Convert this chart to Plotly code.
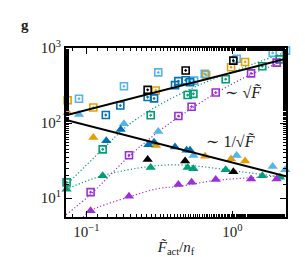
import numpy as np
import plotly.graph_objects as go

# ---- data ----
orange_sq_x = [0.0745, 0.1117, 0.299, 0.661, 0.98, 1.222]
orange_sq_y = [201, 161, 272, 437, 555, 652]
orange_tri_x = [0.0745, 0.1117, 0.30, 0.65, 0.98, 1.222]
orange_tri_y = [138, 64, 50.3, 36.1, 33.3, 31.2]

lblue_sq_x = [0.0891, 0.181, 0.311, 0.547, 0.647, 1.07, 1.888, 2.33, 2.46]
lblue_sq_y = [211, 309, 473, 367, 453, 720, 861, 923, 835]
lblue_tri_x = [0.0891, 0.181, 0.311, 0.541, 1.07, 1.888, 2.30, 2.46]
lblue_tri_y = [130, 98, 77, 36.9, 36.9, 26.3, 23.8, 20.3]

blue_sq_x = [0.136, 0.171, 0.263, 0.291, 0.405, 0.427, 0.479, 0.513]
blue_sq_y = [128, 171, 222, 213, 320, 362, 372, 351]
blue_tri_x = [0.137, 0.172, 0.266, 0.291, 0.405, 0.486, 0.513]
blue_tri_y = [58, 82, 51.3, 55.5, 47.8, 43.3, 43.3]

black_sq_x = [0.263, 0.479, 1.016]
black_sq_y = [277, 502, 678]
black_tri_x = [0.263, 0.475, 1.016]
black_tri_y = [32.8, 31.2, 22.4]

green_sq_x = [0.0733, 0.1294, 0.276, 0.494, 0.541, 0.90, 1.604, 2.11]
green_sq_y = [16.2, 44.6, 127, 236, 245, 384, 571, 705]
green_tri_x = [0.0733, 0.1294, 0.276, 0.494, 0.541, 0.90, 1.604, 2.12]
green_tri_y = [13.1, 19.9, 25.5, 25.5, 24.7, 23.8, 19.9, 18.9]

purple_sq_x = [0.107, 0.196, 0.427, 0.526, 0.769, 1.343, 2.01]
purple_sq_y = [12.0, 37.3, 124, 165, 255, 459, 638]
purple_tri_x = [0.107, 0.196, 0.427, 0.526, 0.769, 1.343, 2.01]
purple_tri_y = [6.8, 10.6, 15.2, 16.3, 17.7, 18.0, 18.0]

# guide curves (dotted)
green_up_x = [0.0726, 0.129, 0.194, 0.311, 0.613, 1.2, 2.34]
green_up_y = [14.8, 44.6, 94, 171, 331, 550, 889]
green_lo_x = [0.0726, 0.129, 0.276, 0.46, 1.15, 2.34]
green_lo_y = [13.1, 19.9, 26.5, 27.6, 22.4, 18.7]
purple_up_x = [0.0726, 0.107, 0.194, 0.311, 0.524, 0.84, 1.35, 2.0, 2.34]
purple_up_y = [6.0, 11.2, 35.2, 76.4, 156, 276, 447, 620, 765]
purple_lo_x = [0.095, 0.107, 0.194, 0.311, 0.427, 0.765, 1.35, 2.34]
purple_lo_y = [5.6, 6.8, 10.3, 13.4, 14.3, 17.2, 18.7, 20.0]

# power-law guides (solid black)
fit_x = [0.0726, 2.33]
fit_up_y = [127, 719]
fit_down_y = [110, 19.5]

# tick labels
x_tick_vals = [0.1, 1]
x_tick_text = ["10<sup>−1</sup>", "10<sup>0</sup>"]
y_tick_vals = [10, 100, 1000]
y_tick_text = ["10<sup>1</sup>", "10<sup>2</sup>", "10<sup>3</sup>"]

# ---- styles ----
ORANGE = "#E69F00"
LBLUE = "#56B4E9"
BLUE = "#0072B2"
GREEN = "#009E73"
PURPLE = "#9B30D9"
BLACK = "#000000"

fig = go.Figure()

for gx, gy, c in [(green_up_x, green_up_y, GREEN), (green_lo_x, green_lo_y, GREEN),
                  (purple_up_x, purple_up_y, PURPLE), (purple_lo_x, purple_lo_y, PURPLE)]:
    fig.add_trace(go.Scatter(x=gx, y=gy, mode="lines",
                             line=dict(color=c, width=1.2, dash="1.2px,2.2px", shape="spline"),
                             showlegend=False, hoverinfo="skip"))

def add_sq(x, y, c):
    fig.add_trace(go.Scatter(x=x, y=y, mode="markers", cliponaxis=False,
                             marker=dict(symbol="square-open-dot", size=7, color=c,
                                         line=dict(color=c, width=1.6)),
                             showlegend=False))

def add_tri(x, y, c):
    fig.add_trace(go.Scatter(x=x, y=y, mode="markers", cliponaxis=False,
                             marker=dict(symbol="triangle-up", size=9, color=c,
                                         line=dict(width=0)),
                             showlegend=False))

for x, y, c in [(orange_sq_x, orange_sq_y, ORANGE), (lblue_sq_x, lblue_sq_y, LBLUE),
                (blue_sq_x, blue_sq_y, BLUE), (black_sq_x, black_sq_y, BLACK),
                (green_sq_x, green_sq_y, GREEN), (purple_sq_x, purple_sq_y, PURPLE)]:
    add_sq(x, y, c)
for x, y, c in [(orange_tri_x, orange_tri_y, ORANGE), (lblue_tri_x, lblue_tri_y, LBLUE),
                (blue_tri_x, blue_tri_y, BLUE), (black_tri_x, black_tri_y, BLACK),
                (green_tri_x, green_tri_y, GREEN), (purple_tri_x, purple_tri_y, PURPLE)]:
    add_tri(x, y, c)

fig.add_trace(go.Scatter(x=fit_x, y=fit_up_y, mode="lines",
                         line=dict(color="black", width=2), showlegend=False))
fig.add_trace(go.Scatter(x=fit_x, y=fit_down_y, mode="lines",
                         line=dict(color="black", width=2), showlegend=False))

SERIF = "Liberation Serif, DejaVu Serif, serif"

axis_common = dict(type="log", showgrid=False, zeroline=False,
                   showline=True, linecolor="black", linewidth=2, mirror="allticks",
                   ticks="inside", ticklen=6, tickwidth=1, tickcolor="black",
                   tickfont=dict(family=SERIF, size=15, color="#222"),
                   minor=dict(ticks="inside", ticklen=3, tickwidth=1, tickcolor="black",
                              showgrid=False))

fig.update_layout(
    width=305, height=257,
    margin=dict(l=58, r=27, t=40, b=44),
    paper_bgcolor="white", plot_bgcolor="white",
    xaxis=dict(range=[np.log10(0.0726), np.log10(2.33)],
               tickvals=x_tick_vals, ticktext=x_tick_text,
               title=dict(text="<i>F̃</i><sub>act</sub>/<i>n</i><sub>f</sub>",
                          font=dict(family=SERIF, size=15, color="#222"), standoff=2),
               **axis_common),
    yaxis=dict(range=[np.log10(5.6), 3.0],
               tickvals=y_tick_vals, ticktext=y_tick_text, **axis_common),
    annotations=[
        dict(x=np.log10(1.19), y=np.log10(253), xref="x", yref="y",
             text="∼ √<i>F̃</i>", showarrow=False,
             font=dict(family=SERIF, size=16, color="#222")),
        dict(x=np.log10(0.964), y=np.log10(56.6), xref="x", yref="y",
             text="∼ 1/√<i>F̃</i>", showarrow=False,
             font=dict(family=SERIF, size=16, color="#222")),
        dict(x=(17 - 58) / 220, y=1 + (40 - 16) / 173, xref="paper", yref="paper",
             text="<b>g</b>", xanchor="center", yanchor="middle",
             showarrow=False, font=dict(family=SERIF, size=15, color="#222")),
    ],
)

fig.write_html("out.html")
